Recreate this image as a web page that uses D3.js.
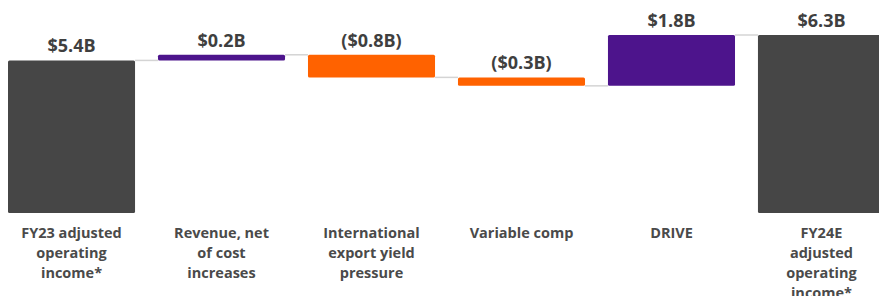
<!DOCTYPE html>
<html>
<head>
<meta charset="utf-8">
<script src="https://cdn.jsdelivr.net/npm/d3@7"></script>
<style>
  body { margin: 0; background: #fff; }
  svg { display: block; font-family: "Open Sans", "Noto Sans", sans-serif; }
</style>
</head>
<body>
<svg id="waterfall" width="879" height="296"></svg>
<script>
const categories = ["fy23", "revenue", "intl", "varcomp", "drive", "fy24"];
const catLabels = [
  ["FY23 adjusted", "operating", "income*"],
  ["Revenue, net", "of cost", "increases"],
  ["International", "export yield", "pressure"],
  ["Variable comp"],
  ["DRIVE"],
  ["FY24E", "adjusted", "operating", "income*"]
];
const values = [5.4, 0.2, -0.8, -0.3, 1.8, 6.3];
const kinds = ["total", "delta", "delta", "delta", "delta", "total"];
const valueLabels = ["$5.4B", "$0.2B", "($0.8B)", "($0.3B)", "$1.8B", "$6.3B"];

const svg = d3.select("#waterfall");
const baseY = 213, topY = 35;

// running totals for the floating bars
let run = 0;
const bars = categories.map((c, i) => {
  let start, end;
  if (kinds[i] === "total") { start = 0; end = values[i]; run = values[i]; }
  else { start = run; end = run + values[i]; run = end; }
  return {cat: c, start, end, value: values[i], kind: kinds[i], label: valueLabels[i], lines: catLabels[i]};
});

const x = d3.scaleBand()
  .domain(categories)
  .range([8, 885])
  .paddingInner(0.153)
  .paddingOuter(0);

const y = d3.scaleLinear()
  .domain([0, 6.3])
  .range([baseY, topY]);

function color(d) {
  if (d.kind === "total") return "#464646";
  return d.value >= 0 ? "#4d148c" : "#ff6200";
}

// connector lines between bars
const links = bars.slice(0, -1).map((d, i) => ({level: d.end, x1: x(d.cat) + x.bandwidth(), x2: x(bars[i + 1].cat)}));
svg.append("g").selectAll("line")
  .data(links)
  .join("line")
  .attr("x1", d => d.x1)
  .attr("x2", d => d.x2)
  .attr("y1", d => y(d.level))
  .attr("y2", d => y(d.level))
  .attr("stroke", "#d4d4d4")
  .attr("stroke-width", 1.5);

svg.append("g").selectAll("rect")
  .data(bars)
  .join("rect")
  .attr("x", d => x(d.cat))
  .attr("width", x.bandwidth())
  .attr("y", d => y(Math.max(d.start, d.end)))
  .attr("height", d => Math.abs(y(d.start) - y(d.end)))
  .attr("rx", 1.5)
  .attr("fill", color);

// value labels above each bar
svg.append("g").selectAll("text")
  .data(bars)
  .join("text")
  .attr("x", d => x(d.cat) + x.bandwidth() / 2)
  .attr("y", d => y(Math.max(d.start, d.end)) - 8)
  .attr("text-anchor", "middle")
  .attr("font-size", 18)
  .attr("font-weight", 700)
  .attr("fill", "#3f3f3f")
  .text(d => d.label);

// category labels
const cl = svg.append("g").selectAll("text")
  .data(bars)
  .join("text")
  .attr("x", d => x(d.cat) + x.bandwidth() / 2)
  .attr("y", 238)
  .attr("text-anchor", "middle")
  .attr("font-size", 14.5)
  .attr("font-weight", 700)
  .attr("fill", "#4a4a4a");

cl.selectAll("tspan")
  .data(d => d.lines.map(t => ({t, cx: x(d.cat) + x.bandwidth() / 2})))
  .join("tspan")
  .attr("x", d => d.cx)
  .attr("dy", (d, i) => i === 0 ? 0 : 20)
  .text(d => d.t);
</script>
</body>
</html>
